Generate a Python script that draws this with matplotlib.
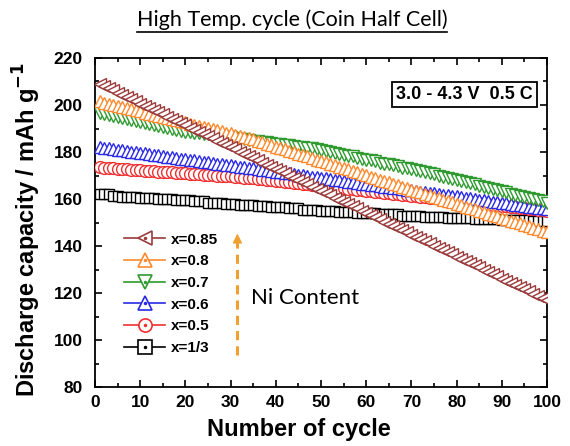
import matplotlib
matplotlib.use('Agg')
import matplotlib.pyplot as plt
from matplotlib.lines import Line2D
from matplotlib.ticker import MultipleLocator

# cycle numbers
cycles = list(range(1, 101))

# discharge capacity (mAh/g) per cycle
cap_085 = [
    209.0, 208.1, 207.1, 206.2, 205.3, 204.4, 203.4, 202.5, 201.6, 200.6,
    199.7, 198.8, 197.8, 196.9, 196.0, 195.1, 194.1, 193.2, 192.3, 191.3,
    190.4, 189.5, 188.5, 187.6, 186.7, 185.8, 184.8, 183.9, 183.0, 182.0,
    181.1, 180.2, 179.2, 178.3, 177.4, 176.5, 175.5, 174.6, 173.7, 172.7,
    171.8, 170.9, 169.9, 169.0, 168.1, 167.2, 166.2, 165.3, 164.4, 163.4,
    162.5, 161.6, 160.6, 159.7, 158.8, 157.9, 156.9, 156.0, 155.1, 154.1,
    153.2, 152.3, 151.3, 150.4, 149.5, 148.6, 147.6, 146.7, 145.8, 144.8,
    143.9, 143.0, 142.0, 141.1, 140.2, 139.3, 138.3, 137.4, 136.5, 135.5,
    134.6, 133.7, 132.7, 131.8, 130.9, 130.0, 129.0, 128.1, 127.2, 126.2,
    125.3, 124.4, 123.4, 122.5, 121.6, 120.7, 119.7, 118.8, 117.9, 116.9,
]
cap_08 = [
    201.5, 201.0, 200.6, 200.1, 199.6, 199.2, 198.7, 198.2, 197.7, 197.3,
    196.8, 196.3, 195.9, 195.4, 194.9, 194.5, 194.0, 193.5, 193.0, 192.6,
    192.1, 191.6, 191.2, 190.7, 190.2, 189.8, 189.3, 188.8, 188.3, 187.9,
    187.4, 186.9, 186.5, 186.0, 185.4, 184.8, 184.2, 183.6, 182.9, 182.3,
    181.7, 181.1, 180.5, 179.9, 179.3, 178.7, 178.1, 177.5, 176.8, 176.2,
    175.6, 175.0, 174.4, 173.8, 173.2, 172.6, 172.0, 171.4, 170.7, 170.1,
    169.5, 168.9, 168.3, 167.7, 167.1, 166.5, 165.9, 165.3, 164.6, 164.0,
    163.4, 162.8, 162.2, 161.6, 161.0, 160.4, 159.8, 159.2, 158.6, 158.0,
    157.4, 156.8, 156.2, 155.6, 155.0, 154.4, 153.8, 153.2, 152.6, 152.0,
    151.4, 150.8, 150.2, 149.6, 149.0, 148.4, 147.8, 147.2, 146.6, 146.0,
]
cap_07 = [
    196.5, 196.1, 195.7, 195.2, 194.8, 194.4, 194.0, 193.6, 193.2, 192.7,
    192.3, 191.9, 191.5, 191.1, 190.7, 190.2, 189.8, 189.4, 189.0, 188.7,
    188.5, 188.2, 188.0, 187.7, 187.5, 187.2, 186.9, 186.7, 186.4, 186.2,
    185.9, 185.6, 185.4, 185.1, 184.9, 184.6, 184.4, 184.1, 183.8, 183.6,
    183.3, 183.1, 182.8, 182.5, 182.3, 182.0, 181.8, 181.5, 181.3, 181.0,
    180.6, 180.2, 179.7, 179.3, 178.9, 178.5, 178.1, 177.6, 177.2, 176.8,
    176.4, 176.0, 175.5, 175.1, 174.7, 174.3, 173.9, 173.4, 173.0, 172.6,
    172.2, 171.8, 171.3, 170.9, 170.5, 170.0, 169.5, 169.1, 168.6, 168.1,
    167.6, 167.1, 166.7, 166.2, 165.7, 165.2, 164.7, 164.3, 163.8, 163.3,
    162.8, 162.3, 161.9, 161.4, 160.9, 160.4, 159.9, 159.5, 159.0, 158.5,
]
cap_06 = [
    182.0, 181.7, 181.5, 181.2, 180.9, 180.7, 180.4, 180.1, 179.9, 179.6,
    179.4, 179.1, 178.8, 178.6, 178.3, 178.0, 177.8, 177.5, 177.2, 177.0,
    176.7, 176.4, 176.2, 175.9, 175.6, 175.4, 175.1, 174.8, 174.6, 174.3,
    174.1, 173.8, 173.5, 173.3, 173.0, 172.7, 172.5, 172.2, 171.9, 171.7,
    171.4, 171.1, 170.9, 170.6, 170.3, 170.1, 169.8, 169.5, 169.3, 169.0,
    168.8, 168.5, 168.2, 168.0, 167.7, 167.4, 167.2, 166.9, 166.6, 166.4,
    166.1, 165.8, 165.6, 165.3, 165.0, 164.8, 164.5, 164.2, 164.0, 163.7,
    163.5, 163.2, 162.9, 162.7, 162.4, 162.1, 161.9, 161.6, 161.3, 161.1,
    160.8, 160.5, 160.3, 160.0, 159.7, 159.5, 159.2, 158.9, 158.7, 158.4,
    158.2, 157.9, 157.6, 157.4, 157.1, 156.8, 156.6, 156.3, 156.0, 155.8,
]
cap_05 = [
    173.5, 173.4, 173.2, 173.1, 172.9, 172.8, 172.7, 172.5, 172.4, 172.3,
    172.1, 172.0, 171.9, 171.7, 171.6, 171.5, 171.3, 171.2, 171.1, 170.9,
    170.8, 170.7, 170.5, 170.4, 170.2, 170.1, 170.0, 169.8, 169.7, 169.6,
    169.4, 169.3, 169.1, 169.0, 168.8, 168.6, 168.4, 168.2, 167.9, 167.7,
    167.5, 167.3, 167.1, 166.9, 166.7, 166.5, 166.2, 166.0, 165.8, 165.6,
    165.4, 165.2, 165.0, 164.8, 164.5, 164.3, 164.1, 163.9, 163.7, 163.5,
    163.3, 163.1, 162.9, 162.6, 162.4, 162.2, 162.0, 161.8, 161.6, 161.4,
    161.2, 160.9, 160.7, 160.5, 160.3, 160.1, 159.9, 159.7, 159.5, 159.2,
    159.0, 158.8, 158.6, 158.4, 158.2, 158.0, 157.8, 157.5, 157.3, 157.1,
    156.9, 156.7, 156.5, 156.3, 156.1, 155.8, 155.6, 155.4, 155.2, 155.0,
]
cap_13 = [
    162.0, 162.0, 162.0, 161.5, 161.5, 161.0, 161.0, 161.0, 161.0, 160.5,
    160.5, 160.5, 160.5, 160.0, 160.0, 160.0, 160.0, 159.5, 159.5, 159.5,
    159.5, 159.0, 159.0, 159.0, 158.5, 158.5, 158.5, 158.5, 158.0, 158.0,
    158.0, 157.5, 157.5, 157.5, 157.5, 157.0, 157.0, 157.0, 156.5, 156.5,
    156.5, 156.5, 156.0, 156.0, 156.0, 155.5, 155.5, 155.5, 155.5, 155.0,
    155.0, 155.0, 155.0, 154.5, 154.5, 154.5, 154.5, 154.0, 154.0, 154.0,
    154.0, 154.0, 153.5, 153.5, 153.5, 153.5, 153.5, 153.0, 153.0, 153.0,
    153.0, 153.0, 152.5, 152.5, 152.5, 152.5, 152.5, 152.0, 152.0, 152.0,
    152.0, 152.0, 152.0, 151.5, 151.5, 151.5, 151.5, 151.5, 151.5, 151.0,
    151.0, 151.0, 151.0, 151.0, 151.0, 151.0, 150.5, 150.5, 150.5, 150.5,
]

labels = ['x=0.85', 'x=0.8', 'x=0.7', 'x=0.6', 'x=0.5', 'x=1/3']
series = [cap_085, cap_08, cap_07, cap_06, cap_05, cap_13]
colors = ['#9a3c3c', '#ff8a2e', '#2f9a2f', '#2a2ae6', '#f03030', 'black']
markers = ['<', '^', 'v', '^', 'o', 's']
msizes = [8.5, 8.5, 8.5, 8.5, 8.5, 7.5]

# arrow for "Ni Content"
arrow_x = 31.5
arrow_y0, arrow_y1 = 93.5, 146.5

fig = plt.figure(figsize=(5.7, 4.46), dpi=100)
ax = fig.add_axes([0.1667, 0.132, 0.793, 0.738])

# draw the last one first so x=0.85 ends up on top
handles = []
for i in range(len(series) - 1, -1, -1):
    ax.plot(cycles, series[i], color=colors[i], lw=1, marker=markers[i],
            markersize=msizes[i], markerfacecolor='white',
            markeredgecolor=colors[i], markeredgewidth=1.0, zorder=3 + len(series) - i)
for i in range(len(series)):
    h1 = Line2D([], [], color=colors[i], lw=1.2, marker=markers[i], markersize=9.5,
                markerfacecolor='white', markeredgecolor=colors[i], markeredgewidth=1.2)
    h2 = Line2D([], [], ls='none', marker='o', markersize=1.5, color=colors[i])
    handles.append((h1, h2))

leg = ax.legend(handles, labels, loc='upper left', bbox_to_anchor=(0.047, 0.492),
                frameon=False, borderpad=0, handlelength=2.7, handletextpad=0.35,
                labelspacing=0.5, prop={'family': 'Liberation Sans', 'weight': 'bold', 'size': 11})

# Ni content arrow
ax.plot([arrow_x, arrow_x], [arrow_y0, arrow_y1 - 4], color='#f0a030', lw=2.2,
        ls=(0, (3, 2)), zorder=2)
ax.annotate('', xy=(arrow_x, arrow_y1), xytext=(arrow_x, arrow_y1 - 4),
            arrowprops=dict(arrowstyle='-|>', color='#f0a030', lw=1, mutation_scale=14))
ax.text(34.5, 118, 'Ni Content', fontsize=16, family='Lato', va='center', ha='left')

ax.text(0.818, 0.888, '3.0 - 4.3 V  0.5 C', transform=ax.transAxes, ha='center', va='center',
        fontsize=13, family='Liberation Sans', weight='bold',
        bbox=dict(boxstyle='square,pad=0.22', fc='white', ec='black', lw=1.3))

ax.set_xlim(0, 100)
ax.set_ylim(80, 220)
ax.xaxis.set_major_locator(MultipleLocator(10))
ax.xaxis.set_minor_locator(MultipleLocator(5))
ax.yaxis.set_major_locator(MultipleLocator(20))
ax.yaxis.set_minor_locator(MultipleLocator(10))
ax.tick_params(which='both', direction='in', top=True, right=True, width=1.2)
ax.tick_params(which='major', length=5)
ax.tick_params(which='minor', length=3)
ax.tick_params(axis='y', pad=9)
ax.tick_params(axis='x', pad=6)
for lab in ax.get_xticklabels() + ax.get_yticklabels():
    lab.set_family('Liberation Sans')
    lab.set_weight('bold')
    lab.set_fontsize(12.5)
for sp in ax.spines.values():
    sp.set_linewidth(1.3)

ax.set_xlabel('Number of cycle', family='Liberation Sans', weight='bold', fontsize=17)
ax.set_ylabel('Discharge capacity / mAh g$^{\\mathbf{-1}}$', family='Liberation Sans',
              weight='bold', fontsize=17)
ax.xaxis.set_label_coords(0.45, -0.095)
ax.yaxis.set_label_coords(-0.115, 0.48)

title = fig.text(0.512, 0.955, 'High Temp. cycle (Coin Half Cell)', ha='center', va='center',
                 family='Lato', fontsize=15.5)
fig.canvas.draw()
bb = title.get_window_extent(fig.canvas.get_renderer()).transformed(fig.transFigure.inverted())
fig.add_artist(Line2D([bb.x0, bb.x1], [bb.y0 - 0.003, bb.y0 - 0.003], color='black', lw=1.2,
                      transform=fig.transFigure))

fig.savefig('out.png', dpi=100)
